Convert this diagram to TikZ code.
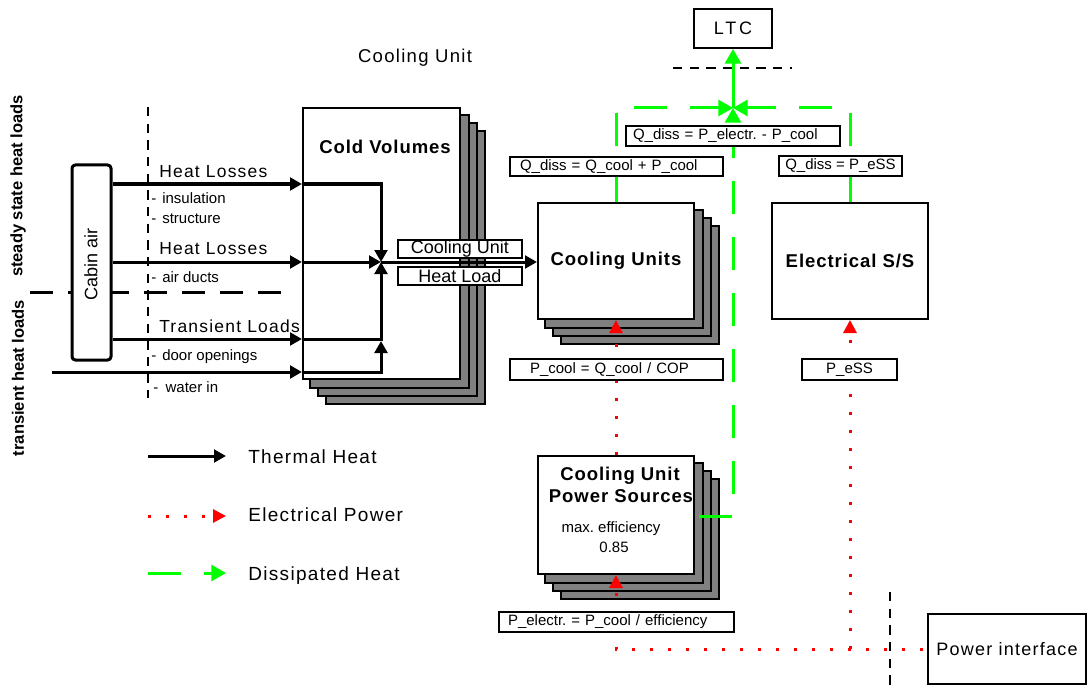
\documentclass[tikz,border=0pt]{standalone}
\usepackage{fontspec}
\setmainfont{Liberation Sans}
\newfontfamily\spacedfont[LetterSpace=7]{Liberation Sans}
\newfontfamily\widefont[LetterSpace=16]{Liberation Sans}
\newfontfamily\boldspaced[LetterSpace=5]{Liberation Sans}
\usetikzlibrary{arrows.meta,backgrounds}
\definecolor{lgreen}{RGB}{0,255,0}
\definecolor{lred}{RGB}{255,0,0}
\definecolor{sgray}{RGB}{128,128,128}
\newcommand\setfs[1]{\fontsize{#1}{#1}\selectfont}
\frenchspacing
\tikzset{
  box/.style={draw, fill=white, line width=1.5pt, inner sep=0pt},
  shadowbox/.style={draw, fill=sgray, line width=1.5pt},
  lbl/.style={draw, fill=white, line width=1.2pt, inner sep=0pt, font=\setfs{11.25pt}},
  thermal/.style={line width=2.25pt, -{Triangle[length=9pt,width=9.5pt]}},
  elec/.style={draw=lred, line width=2.25pt, dash pattern=on 2.25pt off 11.25pt, -{Triangle[length=9.75pt,width=9.75pt]}},
  diss/.style={draw=lgreen, line width=2.25pt, dash pattern=on 24.75pt off 17.25pt, -{Triangle[length=11pt,width=12pt]}},
  sepline/.style={line width=1.5pt, dash pattern=on 7pt off 5.5pt},
  septhick/.style={line width=2.25pt, dash pattern=on 17.25pt off 11.25pt},
  bigtxt/.style={font=\spacedfont\setfs{13.1pt}, inner sep=0pt},
  smalltxt/.style={font=\setfs{11.25pt}, inner sep=0pt},
  legtxt/.style={font=\spacedfont\setfs{14.25pt}, inner sep=0pt},
  titletxt/.style={font=\boldspaced\bfseries\setfs{13.9pt}, inner sep=0pt},
  sidetxt/.style={font=\bfseries\setfs{12.4pt}, rotate=90, inner sep=0pt},
}
\begin{document}
\begin{tikzpicture}[x=0.75pt,y=-0.75pt]
\useasboundingbox (0,0) rectangle (1088,688);
% separators
\draw[sepline] (148,107) -- (148,398);
\draw[septhick] (30,292) -- (283,292);
\draw[sepline] (673,68) -- (792,68);
\draw[sepline] (890,592) -- (890,688);
% main boxes
\node[box, line width=2.25pt, rounded corners=2.5pt, minimum width=29.25pt, minimum height=146.25pt] (cabin) at (91.5,262.5) {};
\node[box, minimum width=117.75pt, minimum height=203.25pt] (cv) at (381.5,243.5) {};
\node[box, minimum width=117pt, minimum height=87pt, font=\boldspaced\bfseries\setfs{13.9pt}] (cu) at (616,261) {Cooling Units};
\node[box, minimum width=117pt, minimum height=87pt, font=\boldspaced\bfseries\setfs{13.9pt}] (es) at (850,261) {Electrical S/S};
\node[box, minimum width=117pt, minimum height=88.5pt] (ps) at (616,515) {};
\node[box, minimum width=58.5pt, minimum height=29.25pt, font=\widefont\setfs{13.5pt}] (ltc) at (733,28.5) {LTC};
\node[box, minimum width=118.5pt, minimum height=52.5pt, font=\spacedfont\setfs{13.5pt}] (pi) at (1007,649) {Power interface};
% stacked shadows
\begin{scope}[on background layer]
\foreach \n in {cv,cu,ps}{
  \foreach \s in {24,16,8}{
    \draw[shadowbox] ([shift={(\s,\s)}]\n.south west) rectangle ([shift={(\s,\s)}]\n.north east);
  }
}
\end{scope}
% helper coordinates
\coordinate (J) at (381,262);
\coordinate (ya) at (0,184);
\coordinate (yb) at (0,262);
\coordinate (yc) at (0,339);
\coordinate (yd) at (0,372);
\coordinate (ye) at (0,341);
\coordinate (w0) at (52,372);
\coordinate (G) at (733,108);
\coordinate (gps) at (699,516);
% thermal heat
\draw[thermal] (cabin.east |- ya) -- (cv.west |- ya);
\draw[thermal] (cabin.east |- yb) -- (cv.west |- yb);
\draw[thermal] (cabin.east |- yc) -- (cv.west |- yc);
\draw[thermal] (w0) -- (cv.west |- yd);
\draw[thermal] (cv.west |- ya) -- (J |- ya) -- (J);
\draw[thermal] (cv.west |- yb) -- (J);
\draw[thermal] (cv.west |- yc) -- (J |- yc) -- (J);
\draw[thermal] (cv.west |- yd) -- (J |- yd) -- (J |- ye);
\draw[thermal] (J) -- (cu.west |- J);
% dissipated heat
\draw[diss] (cu.north) -- (cu.north |- G) -- (G);
\draw[diss] (es.north) -- (es.north |- G) -- (G);
\draw[diss] (gps) -- (G |- gps) -- (G);
\draw[diss, solid] (G) -- (ltc.south);
% electrical power
\draw[elec] (ps.north) -- (cu.south);
\draw[elec] ([xshift=-3pt]pi.west) -- (ps.south |- pi.west) -- (ps.south);
\draw[elec] (es.south |- pi.west) -- (es.south);
% label boxes
\node[lbl, minimum width=93pt, minimum height=13.5pt, font=\setfs{13.5pt}] (cul) at (460,249) {Cooling Unit};
\node[lbl, minimum width=93pt, minimum height=13.5pt, font=\setfs{13.5pt}] (hll) at (460,276) {Heat Load};
\node[lbl, inner xsep=7.5pt, text width=144.75pt, align=left, minimum height=14.25pt] (qcool) at (616.5,166.5) {Q\_diss = Q\_cool + P\_cool};
\node[lbl, inner xsep=5.25pt, text width=150pt, align=left, minimum height=15pt] (qelec) at (733,136) {Q\_diss = P\_electr. - P\_cool};
\node[lbl, minimum width=92.25pt, minimum height=15pt] (qess) at (840.5,166) {Q\_diss = P\_eSS};
\node[lbl, inner xsep=15pt, text width=129.75pt, align=left, minimum height=15.75pt] (pcool) at (616.5,369.5) {P\_cool = Q\_cool / COP};
\node[lbl, minimum width=71.25pt, minimum height=15.75pt] (pess) at (849.5,369.5) {P\_eSS};
\node[lbl, inner xsep=6.75pt, text width=162.75pt, align=left, minimum height=15pt] (pelec) at (616.5,622) {P\_electr. = P\_cool / efficiency};
% texts
\node[font=\spacedfont\setfs{13.9pt}, inner sep=0pt] (title) at (415,58) {Cooling Unit};
\node[sidetxt] (ssl) at (18,186) {steady state heat loads};
\node[sidetxt] (thl) at (18,378) {transient heat loads};
\node[font=\setfs{13.5pt}, rotate=90, inner sep=0pt] (cabtxt) at (91,264) {Cabin air};
\node[titletxt, anchor=base] (cvtxt) at (385,154) {Cold Volumes};
\node[titletxt, anchor=base] (pst1) at (620,480) {Cooling Unit};
\node[titletxt, anchor=base] (pst2) at (621,502) {Power Sources};
\node[smalltxt, anchor=base] (pst3) at (611,532) {max. efficiency};
\node[smalltxt, anchor=base] (pst4) at (614,552) {0.85};
\node[bigtxt, anchor=base west] (hl1) at (159,178) {Heat Losses};
\node[smalltxt, anchor=base west] (ins) at (151,204) {-\hspace{4.5pt}insulation};
\node[smalltxt, anchor=base west] (str) at (151,223) {-\hspace{4.5pt}structure};
\node[bigtxt, anchor=base west] (hl2) at (159,254) {Heat Losses};
\node[smalltxt, anchor=base west] (duc) at (151,282) {-\hspace{4.5pt}air ducts};
\node[bigtxt, anchor=base west] (trl) at (159,332) {Transient Loads};
\node[smalltxt, anchor=base west] (door) at (151,360) {-\hspace{4.5pt}door openings};
\node[smalltxt, anchor=base west] (wat) at (153,392) {-\hspace{5.5pt}water in};
% legend
\coordinate (l1a) at (148,456); \coordinate (l1b) at (226,456);
\coordinate (l2a) at (148,516); \coordinate (l2b) at (226,516);
\coordinate (l3a) at (148,573); \coordinate (l3b) at (226,573);
\draw[thermal] (l1a) -- (l1b);
\draw[elec] (l2a) -- (l2b);
\draw[diss] (l3a) -- (l3b);
\node[legtxt, anchor=base west] (lg1) at (248,463) {Thermal Heat};
\node[legtxt, anchor=base west] (lg2) at (248,521) {Electrical Power};
\node[legtxt, anchor=base west] (lg3) at (248,580) {Dissipated Heat};
\end{tikzpicture}
\end{document}
